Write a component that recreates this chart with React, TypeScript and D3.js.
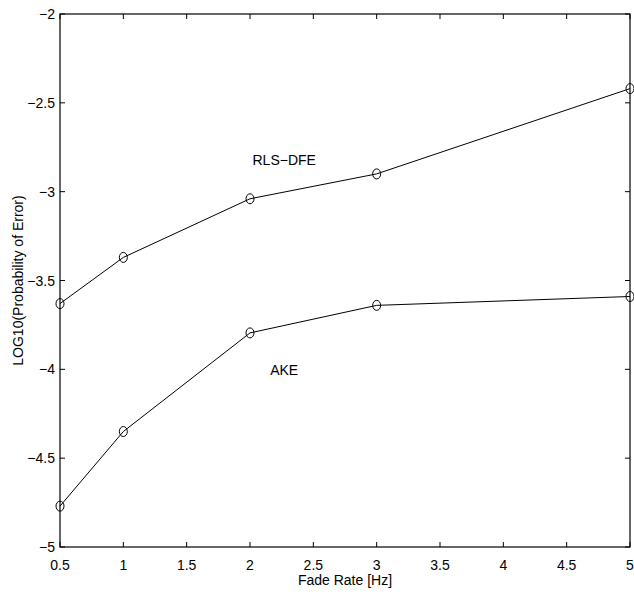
import React from "react";
import * as d3 from "d3";

const fadeRates = [0.5, 1, 2, 3, 5];
const rlsDfe = [-3.63, -3.37, -3.04, -2.9, -2.42];
const ake = [-4.77, -4.35, -3.795, -3.64, -3.59];
const xTicks = [0.5, 1, 1.5, 2, 2.5, 3, 3.5, 4, 4.5, 5];
const yTicks = [-5, -4.5, -4, -3.5, -3, -2.5, -2];

const W = 634, H = 595;
const L = 60, R = 630, T = 14, B = 547;

export default function App() {
  const x = d3.scaleLinear().domain([0.5, 5]).range([L, R]);
  const y = d3.scaleLinear().domain([-5, -2]).range([B, T]);
  const line = d3.line<number>().x((_, i) => x(fadeRates[i])).y((d) => y(d));
  const fmt = (v: number) => String(v).replace("-", "\u2212");
  const font = "Liberation Sans, Arial, sans-serif";
  const tl = 5;
  return (
    <svg width={W} height={H} style={{ position: "absolute", left: 0, top: 0 }} fontFamily={font}>
      <rect x={0} y={0} width={W} height={H} fill="white" />
      <rect x={L} y={T} width={R - L} height={B - T} fill="none" stroke="black" strokeWidth={1.2} />
      {xTicks.map((t) => (
        <g key={"x" + t}>
          <line x1={x(t)} x2={x(t)} y1={B} y2={B - tl} stroke="black" />
          <line x1={x(t)} x2={x(t)} y1={T} y2={T + tl} stroke="black" />
          <text x={x(t)} y={570} textAnchor="middle" fontSize={14}>{fmt(t)}</text>
        </g>
      ))}
      {yTicks.map((t) => (
        <g key={"y" + t}>
          <line x1={L} x2={L + tl} y1={y(t)} y2={y(t)} stroke="black" />
          <line x1={R} x2={R - tl} y1={y(t)} y2={y(t)} stroke="black" />
          <text x={55} y={y(t) + 5} textAnchor="end" fontSize={14}>{fmt(t)}</text>
        </g>
      ))}
      {[rlsDfe, ake].map((s, si) => (
        <g key={si}>
          <path d={line(s) || ""} fill="none" stroke="black" strokeWidth={1} />
          {s.map((v, i) => (
            <ellipse key={i} cx={x(fadeRates[i])} cy={y(v)} rx={4} ry={5} fill="none" stroke="black" strokeWidth={1} />
          ))}
        </g>
      ))}
      <text x={x(2.27)} y={y(-2.85)} textAnchor="middle" fontSize={14}>RLS{"\u2212"}DFE</text>
      <text x={x(2.27)} y={y(-4.03)} textAnchor="middle" fontSize={14}>AKE</text>
      <text x={(L + R) / 2} y={585} textAnchor="middle" fontSize={14}>Fade Rate [Hz]</text>
      <text transform={`translate(23,${(T + B) / 2}) rotate(-90)`} textAnchor="middle" fontSize={14}>LOG10(Probability of Error)</text>
    </svg>
  );
}
